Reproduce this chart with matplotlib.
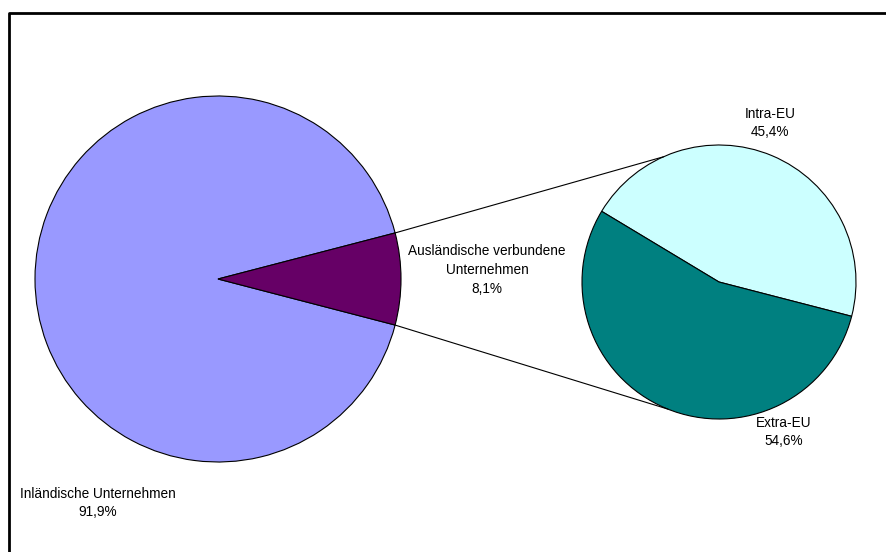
import numpy as np
import matplotlib as mpl
mpl.use('Agg')
import matplotlib.pyplot as plt

plt.rcParams['font.family'] = ['Liberation Sans', 'DejaVu Sans']

# data
main_labels = ['Inländische Unternehmen', 'Ausländische verbundene\nUnternehmen']
main_shares = [91.9, 8.1]
main_colors = ['#9999FF', '#660066']

sub_labels = ['Intra-EU', 'Extra-EU']
sub_shares = [45.4, 54.6]
sub_colors = ['#CCFFFF', '#008080']

def pct(v):
    return ('%.1f%%' % v).replace('.', ',')

W, H = 886, 552
fig = plt.figure(figsize=(W/100, H/100), dpi=100)
ax = fig.add_axes([0, 0, 1, 1])

# big pie
c1 = (218, H-279)
r1 = 183
half = main_shares[1]*3.6/2
ax.pie(main_shares, colors=main_colors, center=c1, radius=r1,
       startangle=half, counterclock=True,
       wedgeprops=dict(edgecolor='black', linewidth=0.8))

# small pie
c2 = (719, H-282)
r2 = 137
start2 = -14.5
ax.pie(sub_shares, colors=sub_colors, center=c2, radius=r2,
       startangle=start2, counterclock=True,
       wedgeprops=dict(edgecolor='black', linewidth=0.8))

# connector lines
for a1, a2 in [(half, 114), (-half, -112)]:
    p1 = (c1[0]+r1*np.cos(np.radians(a1)), c1[1]+r1*np.sin(np.radians(a1)))
    p2 = (c2[0]+r2*np.cos(np.radians(a2)), c2[1]+r2*np.sin(np.radians(a2)))
    ax.plot([p1[0], p2[0]], [p1[1], p2[1]], color='black', lw=0.8)

fs = 9.8
ax.text(98, H-503, main_labels[0]+'\n'+pct(main_shares[0]), ha='center', va='center',
        fontsize=fs, linespacing=1.45)
ax.text(487, H-270, main_labels[1]+'\n'+pct(main_shares[1]), ha='center', va='center',
        fontsize=fs, linespacing=1.45)
ax.text(770, H-123, sub_labels[0]+'\n'+pct(sub_shares[0]), ha='center', va='center',
        fontsize=fs, linespacing=1.45)
ax.text(784, H-432, sub_labels[1]+'\n'+pct(sub_shares[1]), ha='center', va='center',
        fontsize=fs, linespacing=1.45)

# frame (only top and left edges visible)
ax.plot([9, 9, W+5], [-5, H-13, H-13], color='black', lw=2, clip_on=False)

ax.set_xlim(0, W)
ax.set_ylim(0, H)
ax.set_aspect('equal')
ax.axis('off')

fig.savefig('out.png', dpi=100)
